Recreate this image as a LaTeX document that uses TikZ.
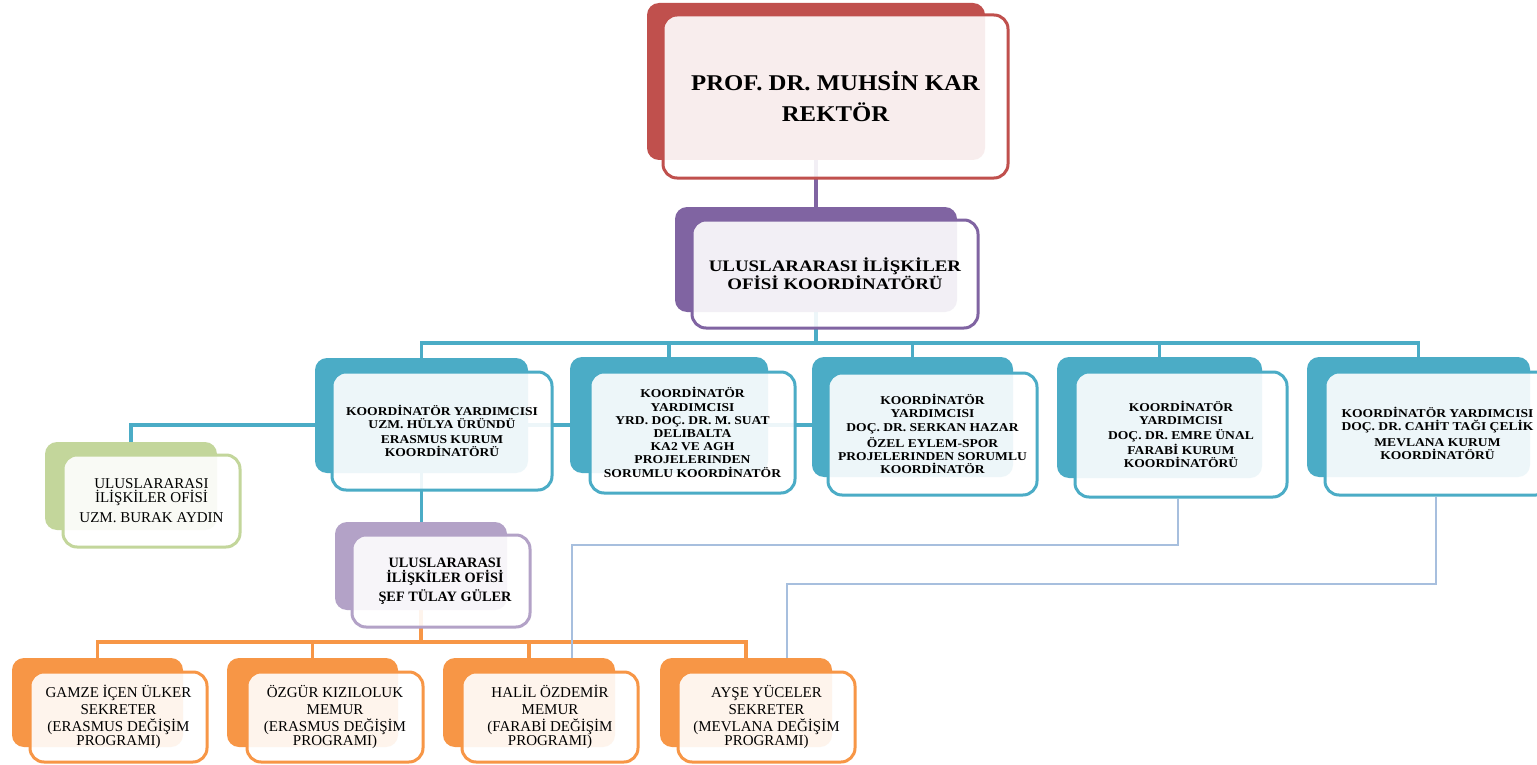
\documentclass[tikz,border=0pt]{standalone}
\usepackage{fontspec}
\setmainfont{Liberation Serif}
\newfontfamily\widefa[FakeStretch=1.13]{Liberation Serif}
\newfontfamily\widefb[FakeStretch=1.18]{Liberation Serif}
\newfontfamily\widefc[FakeStretch=1.1]{Liberation Serif}
\definecolor{cred}{HTML}{C0504D}
\definecolor{cpur}{HTML}{8064A2}
\definecolor{cteal}{HTML}{4BACC6}
\definecolor{cgrn}{HTML}{C3D69B}
\definecolor{clil}{HTML}{B3A2C7}
\definecolor{corg}{HTML}{F79646}
\definecolor{cblu}{HTML}{A7BFDE}
\pgfdeclarelayer{bg}
\pgfsetlayers{bg,main}
\tikzset{
  back/.style={fill=#1, rounded corners=12pt, inner sep=0pt},
  front/.style={draw=#1, line width=3pt, fill=white, fill opacity=0.9, text opacity=1,
    rounded corners=14pt, inner sep=0pt, align=center, text=black},
  conn/.style={draw=#1, line width=3.2pt},
  thinconn/.style={draw=cblu, line width=2pt},
  tealtxt/.style={font=\widefa\bfseries\fontsize{12}{13.2}\selectfont},
  plaintxt/.style={font=\fontsize{15}{17}\selectfont},
}
\begin{document}
\begin{tikzpicture}[x=1pt,y=-1pt]
\useasboundingbox (0,0) rectangle (1537,765);
% back boxes
\node[back=cred, minimum width=338pt, minimum height=157pt] (rB) at (816,81.5) {};
\node[back=cpur, minimum width=282pt, minimum height=105pt] (pB) at (816,259.5) {};
\node[back=cteal, minimum width=213pt, minimum height=115pt] (c1B) at (421.5,415.5) {};
\node[back=cteal, minimum width=198pt, minimum height=116pt] (c2B) at (669,415) {};
\node[back=cteal, minimum width=201pt, minimum height=120pt] (c3B) at (912.5,417) {};
\node[back=cteal, minimum width=205pt, minimum height=121pt] (c4B) at (1159.5,417.5) {};
\node[back=cteal, minimum width=223pt, minimum height=120pt] (c5B) at (1418.5,417) {};
\node[back=cgrn, minimum width=172pt, minimum height=88pt] (gB) at (131,486) {};
\node[back=clil, minimum width=172pt, minimum height=88pt] (lB) at (421,566) {};
\node[back=corg, minimum width=171pt, minimum height=89pt] (oAB) at (97.5,702.5) {};
\node[back=corg, minimum width=171pt, minimum height=89pt] (oBB) at (312.5,702.5) {};
\node[back=corg, minimum width=172pt, minimum height=89pt] (oCB) at (529,702.5) {};
\node[back=corg, minimum width=172pt, minimum height=89pt] (oDB) at (746,702.5) {};
\coordinate (bus) at (816,343);
\coordinate (ay) at (0,425);
\coordinate (obus) at (421,642);
\coordinate (b1r) at (1178,545);
\coordinate (b1l) at (572,545);
\coordinate (b2r) at (1436,584);
\coordinate (b2l) at (787,584);
% front boxes
\node[front=cred, minimum width=345pt, minimum height=163pt,
  font=\widefc\bfseries\fontsize{22.5}{31}\selectfont] (rF) at (835.5,96.5) {PROF. DR. MUHSİN KAR\\REKTÖR};
\node[front=cpur, minimum width=286pt, minimum height=108pt,
  font=\widefb\bfseries\fontsize{16}{17}\selectfont] (pF) at (835,274) {ULUSLARARASI İLİŞKİLER\\OFİSİ KOORDİNATÖRÜ};
\node[front=cteal, tealtxt, minimum width=220pt, minimum height=118pt] (c1F) at (442,431)
  {KOORDİNATÖR YARDIMCISI\\UZM. HÜLYA ÜRÜNDÜ\\[2pt]ERASMUS KURUM\\KOORDİNATÖRÜ};
\node[front=cteal, tealtxt, minimum width=205pt, minimum height=121pt] (c2F) at (692.5,432.5)
  {KOORDİNATÖR\\YARDIMCISI\\[0pt]YRD. DOÇ. DR. M. SUAT\\DELIBALTA\\[0pt]KA2 VE AGH\\PROJELERINDEN\\SORUMLU KOORDİNATÖR};
\node[front=cteal, tealtxt, minimum width=209pt, minimum height=122pt] (c3F) at (932.5,434)
  {KOORDİNATÖR\\YARDIMCISI\\[1pt]DOÇ. DR. SERKAN HAZAR\\[2pt]ÖZEL EYLEM-SPOR\\PROJELERINDEN SORUMLU\\KOORDİNATÖR};
\node[front=cteal, tealtxt, minimum width=212pt, minimum height=125pt] (c4F) at (1181,434.5)
  {KOORDİNATÖR\\YARDIMCISI\\[2pt]DOÇ. DR. EMRE ÜNAL\\[2pt]FARABİ KURUM\\KOORDİNATÖRÜ};
\node[front=cteal, tealtxt, minimum width=225pt, minimum height=123pt] (c5F) at (1437.5,433.5)
  {KOORDİNATÖR YARDIMCISI\\DOÇ. DR. CAHİT TAĞI ÇELİK\\[2pt]MEVLANA KURUM\\KOORDİNATÖRÜ};
\node[front=cgrn, plaintxt, minimum width=177pt, minimum height=92pt] (gF) at (151.5,501)
  {ULUSLARARASI\\[-3pt]İLİŞKİLER OFİSİ\\[3pt]UZM. BURAK AYDIN};
\node[front=clil, font=\bfseries\fontsize{14.3}{15.5}\selectfont, minimum width=178pt, minimum height=92pt] (lF) at (441,581)
  {\hspace*{8pt}ULUSLARARASI\\\hspace*{8pt}İLİŞKİLER OFİSİ\\[3pt]\hspace*{8pt}ŞEF TÜLAY GÜLER};
\node[front=corg, plaintxt, minimum width=177pt, minimum height=90pt] (oAF) at (118.5,717)
  {GAMZE İÇEN ÜLKER\\SEKRETER\\(ERASMUS DEĞİŞİM\\[-3pt]PROGRAMI)};
\node[front=corg, plaintxt, minimum width=176pt, minimum height=90pt] (oBF) at (335,717)
  {ÖZGÜR KIZILOLUK\\MEMUR\\(ERASMUS DEĞİŞİM\\[-3pt]PROGRAMI)};
\node[front=corg, plaintxt, minimum width=176pt, minimum height=90pt] (oCF) at (550,717)
  {HALİL ÖZDEMİR\\MEMUR\\(FARABİ DEĞİŞİM\\[-3pt]PROGRAMI)};
\node[front=corg, plaintxt, minimum width=177pt, minimum height=90pt] (oDF) at (766.5,717)
  {AYŞE YÜCELER\\SEKRETER\\(MEVLANA DEĞİŞİM\\[-3pt]PROGRAMI)};
% background and connectors behind the boxes
\begin{pgfonlayer}{bg}
\fill[white] (0,0) rectangle (1537,765);
\draw[conn=cpur] (rB.south) -- (pB.north);
\draw[conn=cteal] (pB.south) -- (bus);
\foreach \n in {c1B,c2B,c3B,c4B,c5B} \draw[conn=cteal] (\n.north) |- (bus);
\draw[conn=cteal] (gB.north) |- (c3B.west |- ay);
\draw[conn=cteal] (c1B.south) -- (c1B.south |- lB.north);
\draw[conn=corg] (lB.south) -- (lB.south |- obus);
\foreach \n in {oAB,oBB,oCB,oDB} \draw[conn=corg] (\n.north) |- (lB.south |- obus);
\draw[thinconn] (c4F.south -| b1r) -- (b1r) -- (b1l) -- (b1l |- oCB.north);
\draw[thinconn] (c5F.south -| b2r) -- (b2r) -- (b2l) -- (b2l |- oDB.north);
\end{pgfonlayer}
\end{tikzpicture}
\end{document}
